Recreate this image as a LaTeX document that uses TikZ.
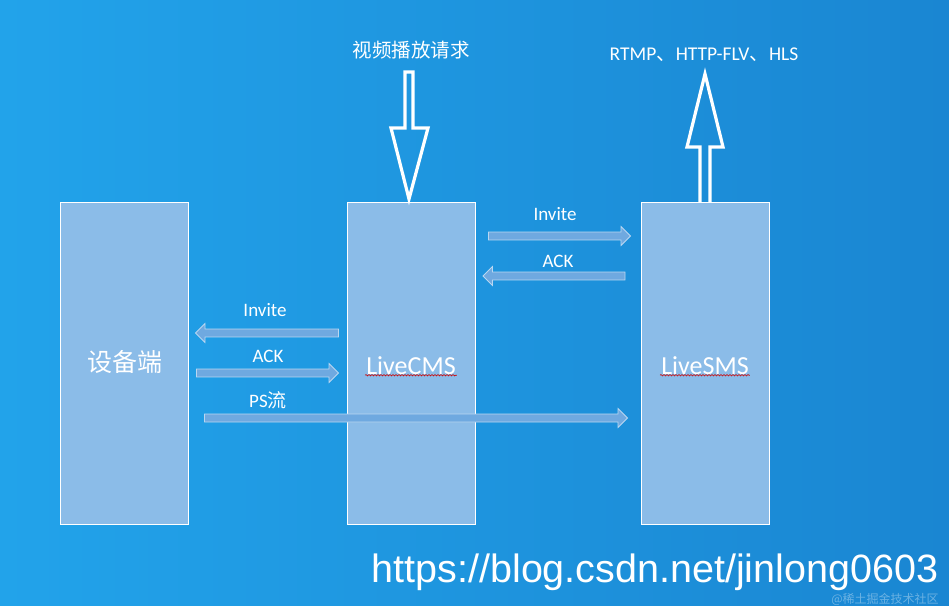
\documentclass[tikz,border=0pt]{standalone}
\usepackage{fontspec}
\setmainfont{Carlito}
\newfontfamily\cjk{Noto Sans CJK SC}
\newfontfamily\urlfont{Liberation Sans}
\usetikzlibrary{shapes.arrows,decorations.pathmorphing}
\definecolor{bgL}{HTML}{22A3EA}
\definecolor{bgR}{HTML}{1A86D2}
\definecolor{boxc}{HTML}{8BBCE8}
\definecolor{arrc}{HTML}{6FA9E0}
\tikzset{
  ent/.style={draw=white, fill=boxc, line width=1pt, minimum width=128pt, minimum height=322pt, inner sep=0pt},
  flow/.style={single arrow, draw=boxc!60!white, fill=arrc, line width=0.8pt, minimum width=19pt, single arrow head extend=4pt, single arrow head indent=0pt, minimum height=#1, inner sep=2.5pt},
  lbl/.style={text=white, font=\fontsize{19pt}{22pt}\selectfont},
  big/.style={draw=white, line width=3.2pt, line join=miter},
  wavy/.style={draw=red!80!black, line width=0.6pt, decorate, decoration={snake, amplitude=0.7pt, segment length=3pt}}
}
\begin{document}
\begin{tikzpicture}[x=1pt,y=-1pt]
\useasboundingbox (0,0) rectangle (949,605);
\shade[left color=bgL, right color=bgR] (0,0) rectangle (949,605);
\node[ent] (dev) at (124,363.5) {};
\node[ent] (cms) at (411,363.5) {};
\node[ent] (sms) at (705.5,363.5) {};
\node[text=white, font=\cjk\fontsize{25pt}{30pt}\selectfont] at (125,362) {设备端};
\node[text=white, font=\fontsize{26pt}{30pt}\selectfont, inner sep=1pt] (cmsl) at (411,366) {LiveCMS};
\node[text=white, font=\fontsize{26pt}{30pt}\selectfont, inner sep=1pt] (smsl) at (705,366) {LiveSMS};
\draw[wavy] ([yshift=1pt]cmsl.south west) -- ([yshift=1pt]cmsl.south east);
\draw[wavy] ([yshift=1pt]smsl.south west) -- ([yshift=1pt]smsl.south east);
% big arrows
\draw[big] (405,72) -- (413,72) -- (413,128) -- (428,128) -- (409,199) -- (391,128) -- (405,128) -- cycle;
\draw[big] (700,202) -- (700,147) -- (687,147) -- (705,74) -- (723,147) -- (710,147) -- (710,202);
\node[text=white, font=\cjk\fontsize{19.5pt}{23pt}\selectfont] (req) at (411,50) {视频播放请求};
\node[text=white, font=\fontsize{19.5pt}{23pt}\selectfont] (proto) at (704,55) {RTMP{\cjk 、}HTTP-FLV{\cjk 、}HLS};
% flow arrows
\node[flow=142pt] (a1) at (557.5,236) {};
\node[flow=142pt, shape border rotate=180] (a2) at (556,276) {};
\node[flow=143pt, shape border rotate=180] (a3) at (269,333) {};
\node[flow=142pt] (a4) at (265.5,373) {};
\node[flow=423pt] (a5) at (414,418) {};
\node[lbl] at (555,214) {Invite};
\node[lbl] at (558,261) {ACK};
\node[lbl] at (265,310) {Invite};
\node[lbl] at (268,356) {ACK};
\node[lbl] at (268,400) {PS{\cjk 流}};
\node[text=white, font=\urlfont\fontsize{39.5pt}{44pt}\selectfont] (url) at (655,572) {https://blog.csdn.net/jinlong0603};
\node[text=white, opacity=0.35, font=\cjk\fontsize{12pt}{14pt}\selectfont, inner sep=0pt] at (885,599) {@稀土掘金技术社区};
\end{tikzpicture}
\end{document}
